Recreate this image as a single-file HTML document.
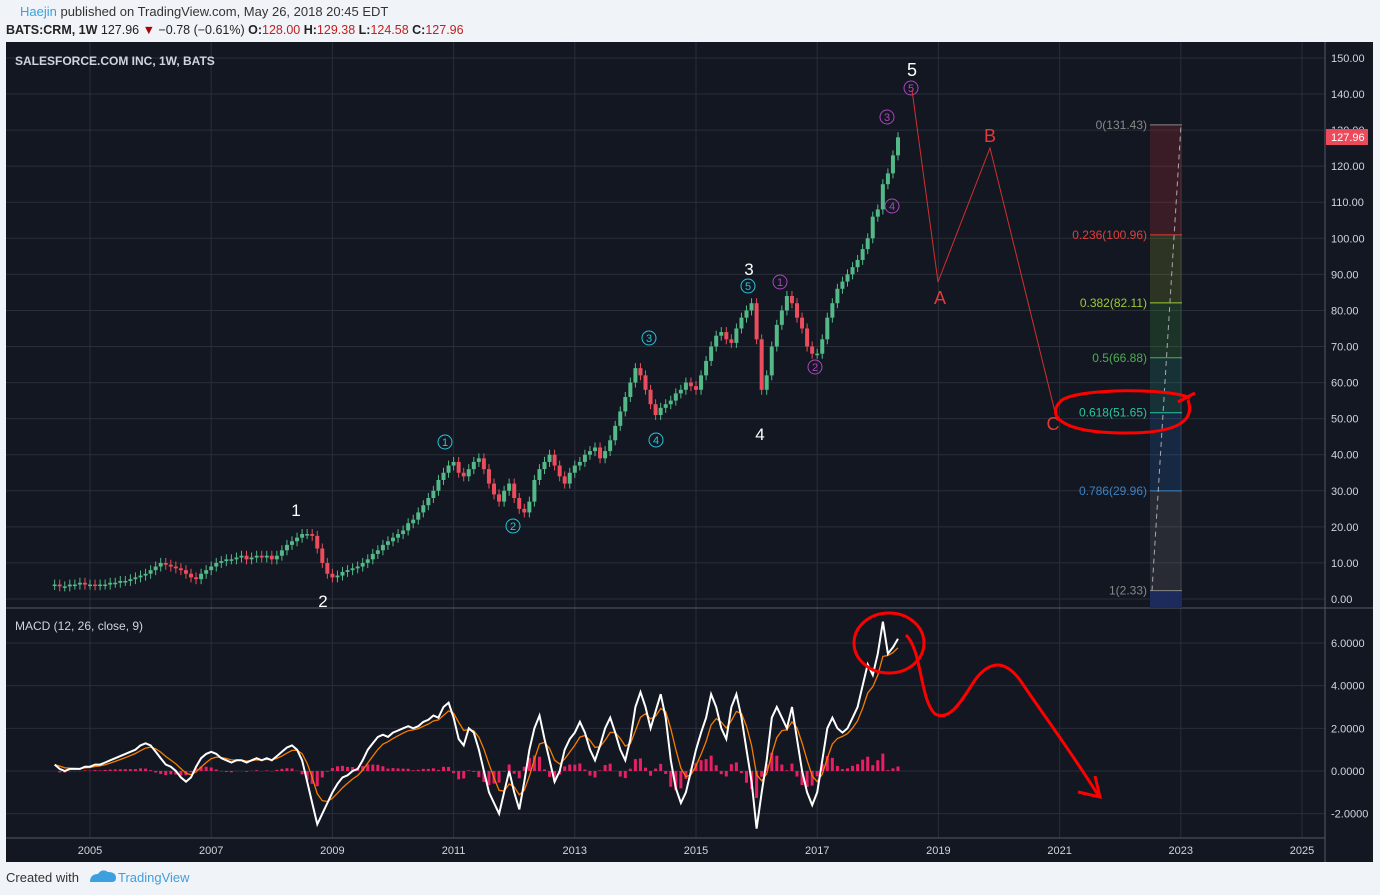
<!DOCTYPE html>
<html><head><meta charset="utf-8"><style>
body{margin:0;width:1380px;height:895px;background:#f0f3f7;font-family:"Liberation Sans",sans-serif;overflow:hidden}
svg{position:absolute;left:0;top:0}
</style></head><body>
<svg id="chart" width="1380" height="895">
<rect x="6" y="42" width="1367" height="820" fill="#131722"/>
<text x="20" y="16" font-size="13" fill="#3ca0e0">Haejin<tspan fill="#333"> published on TradingView.com, May 26, 2018 20:45 EDT</tspan></text>
<text x="6" y="34" font-size="12.5" font-weight="bold" fill="#222">BATS:CRM, 1W <tspan font-weight="normal">127.96 </tspan><tspan fill="#a00">▼</tspan><tspan font-weight="normal"> −0.78 (−0.61%) </tspan>O:<tspan fill="#c02020" font-weight="normal">128.00</tspan> H:<tspan fill="#c02020" font-weight="normal">129.38</tspan> L:<tspan fill="#c02020" font-weight="normal">124.58</tspan> C:<tspan fill="#c02020" font-weight="normal">127.96</tspan></text>
<g id="grid"></g>
<line x1="1325" y1="42" x2="1325" y2="862" stroke="#555a66"/>
<line x1="6" y1="608" x2="1373" y2="608" stroke="#555a66"/>
<line x1="6" y1="838" x2="1325" y2="838" stroke="#555a66"/>
<text x="15" y="65" font-size="12" font-weight="bold" fill="#d1d4dc">SALESFORCE.COM INC, 1W, BATS</text>
<text x="15" y="630" font-size="12" fill="#d1d4dc">MACD (12, 26, close, 9)</text>
<g id="fib"></g>
<g id="candles"></g>
<g id="macd"></g>
<g id="ann"></g>
<text x="6" y="882" font-size="13" fill="#333">Created with</text>
<path d="M90 882 q0-8 8-8 q4-6 10-2 q8 0 8 6 q0 4-4 4z" fill="#3ca0e0"/>
<text x="118" y="882" font-size="13" fill="#3ca0e0">TradingView</text>
</svg>
<script>
const NS="http://www.w3.org/2000/svg";
const startYear=2004+5/12;
const closes=[4,3.5,3.5,4,4,4.5,4,
4,3.8,4,4,4.5,4.5,5,5,5.5,6,6.5,7,
8,9,10,9.5,9,8.5,8,7,6,5.5,7,8,
9,10,10.5,11,11,11.5,12,11,11.5,12,11.5,12,
11,12,13.5,15,16,17,18,18,17.5,14,10,7,
6,6.5,7.5,8,8.5,9,10,11,12.5,13.5,15,16,
17,18,19,21,22,24,26,28,30,33,35,37,
38,35,34,36,38,39,36,32,29,27,30,32,
28,25,24,27,33,36,38,40,37,34,32,35,
37,38,40,41,42,39,41,44,48,52,56,60,
64,62,58,54,51,53,54,55,57,58,60,59,
58,62,66,70,73,74,72,71,75,78,80,82,
72,58,62,70,76,80,84,82,78,75,70,68,
68,72,78,82,86,88,90,92,94,97,100,106,
108,115,118,123,128];
const macdVals=[0.3,0.1,0,0.1,0.1,0.1,0.2,
0.2,0.3,0.3,0.4,0.5,0.6,0.7,0.8,0.9,1.0,1.2,1.3,
1.2,0.9,0.6,0.3,0.2,0,-0.3,-0.5,-0.3,0.2,0.6,0.8,
0.9,0.8,0.6,0.5,0.4,0.5,0.5,0.4,0.5,0.6,0.5,0.6,
0.5,0.7,0.9,1.1,1.2,1.0,0.5,-0.5,-1.5,-2.5,-2.0,-1.5,
-1.0,-0.6,-0.3,-0.2,0,0.1,0.5,1.0,1.3,1.6,1.7,1.6,
1.8,1.9,2.0,2.1,2.0,2.1,2.3,2.4,2.6,2.5,3.0,3.2,
2.5,1.5,1.2,2.0,1.8,1.0,0,-1.0,-1.5,-2.0,-1.0,0,
-1.0,-1.8,-0.5,1.0,2.0,2.6,1.5,0.5,-0.5,0,1.0,1.5,
1.8,2.3,1.8,1.0,0.5,1.2,2.0,2.5,1.8,1.0,0.5,1.5,
3.0,3.7,3.0,2.0,2.8,3.6,2.5,0.5,-0.8,-1.5,-1.0,0,
1.0,1.8,2.5,3.6,3.0,2.0,1.5,3.0,3.6,2.5,1.0,-0.5,
-2.7,-1.0,0.5,2.5,3.0,2.5,2.0,3.0,1.5,0,-1.0,-1.6,
-1.0,0.5,2.0,2.5,2.0,1.8,2.0,2.5,3.0,4.0,5.0,4.5,
5.5,7.0,5.5,5.8,6.2];
const priceTicks=[0,10,20,30,40,50,60,70,80,90,100,110,120,130,140,150];
const macdTicks=[-2,0,2,4,6];
const yearTicks=[2005,2007,2009,2011,2013,2015,2017,2019,2021,2023,2025];
const fibLevels=[0,0.236,0.382,0.5,0.618,0.786,1];
const fibPrices=[131.43,100.96,82.11,66.88,51.65,29.96,2.33];

const X=yr=>90+(yr-2005)*60.6;
const Y=p=>599-p*3.607;
const M=v=>771-v*21.33;
function el(tag,attrs,parent,text){const e=document.createElementNS(NS,tag);for(const k in attrs)e.setAttribute(k,attrs[k]);if(text!==undefined)e.textContent=text;parent.appendChild(e);return e;}
const grid=document.getElementById('grid');
priceTicks.forEach(p=>{
 const l=el('line',{x1:6,x2:1325,y1:Y(p),y2:Y(p),stroke:'#2a2e39'},grid);
 
 
 const t=el('text',{x:1331,y:Y(p)+4,'font-size':11,fill:'#d1d4dc'},grid,p.toFixed(2));
 
 
});
macdTicks.forEach(v=>{
 const l=el('line',{x1:6,x2:1325,y1:M(v),y2:M(v),stroke:'#2a2e39'},grid);
 
 
 const t=el('text',{x:1331,y:M(v)+4,'font-size':11,fill:'#d1d4dc'},grid,v.toFixed(4));
 
 
});
yearTicks.forEach(y=>{
 const l=el('line',{x1:X(y),x2:X(y),y1:42,y2:838,stroke:'#2a2e39'},grid);
 
 
 const t=el('text',{x:X(y),y:854,'font-size':11,fill:'#d1d4dc','text-anchor':'middle'},grid,String(y));
 
 
});
const fib=document.getElementById('fib');
const fx1=1150,fx2=1182;
const bandColors=['rgba(200,50,60,0.22)','rgba(150,170,40,0.2)','rgba(60,160,60,0.22)','rgba(40,150,130,0.22)','rgba(40,110,180,0.22)','rgba(120,120,120,0.22)'];
const lineColors=['#888','#e0403a','#9acd32','#4caf50','#26c6a0','#3b82c4','#888'];
for(let i=0;i<fibLevels.length-1;i++){
 const r=el('rect',{x:fx1,width:fx2-fx1,y:Y(fibPrices[i]),height:Y(fibPrices[i+1])-Y(fibPrices[i]),fill:bandColors[i]},fib);
 
 
}
const nb=el('rect',{x:fx1,width:fx2-fx1,y:Y(fibPrices[6]),height:608-Y(fibPrices[6]),fill:'#1c2a5c'},fib);


fibLevels.forEach((lv,i)=>{
 const l=el('line',{x1:fx1,x2:fx2,y1:Y(fibPrices[i]),y2:Y(fibPrices[i]),stroke:lineColors[i]},fib);
 
 
 const t=el('text',{x:fx1-3,y:Y(fibPrices[i])+4,'font-size':12,fill:lineColors[i],'text-anchor':'end'},fib,lv+'('+fibPrices[i].toFixed(2)+')');
 
 
});
const fd=el('line',{x1:1152,y1:Y(2.33),x2:1181,y2:Y(131.43),stroke:'#aaa','stroke-dasharray':'5,4'},fib);


const cg=document.getElementById('candles');
for(let i=0;i<closes.length;i++){
 const o=i?closes[i-1]:closes[0]*0.97, c=closes[i];
 const x=X(startYear+i/12);
 const up=c>=o, col=up?'#53b987':'#eb4d5c';
 const top=Y(Math.max(o,c)), bot=Y(Math.min(o,c));
 const w=el('line',{x1:x,x2:x,y1:top-5,y2:bot+5,stroke:col},cg);
 
 
 const b=el('rect',{x:x-2,width:4,y:top,height:Math.max(1.5,bot-top),fill:col},cg);
 
 
}
const pl=el('rect',{x:1326,y:129,width:42,height:16,fill:'#ec4a5a'},cg);


const pt=el('text',{x:1331,y:141,'font-size':11,fill:'#fff'},cg,'127.96');


const mg=document.getElementById('macd');
const sig=[];let s=macdVals[0];
macdVals.forEach(v=>{s=s+(v-s)*0.35;sig.push(s);});
macdVals.forEach((v,i)=>{
 const h=(v-sig[i])*0.5, x=X(startYear+i/12);
 const r=el('rect',{x:x-1.5,width:3,y:Math.min(M(0),M(h)),height:Math.abs(M(h)-M(0)),fill:'#e91e63'},mg);
 
 
});
const pts=a=>a.map((v,i)=>X(startYear+i/12).toFixed(1)+','+M(v).toFixed(1)).join(' ');
const sl=el('polyline',{points:pts(sig),fill:'none',stroke:'#f57c00','stroke-width':1.3},mg);


const ml=el('polyline',{points:pts(macdVals),fill:'none',stroke:'#fff','stroke-width':2},mg);


const an=document.getElementById('ann');
const labels=[['1',296,516,'#fff',17],['2',323,607,'#fff',17],['3',749,275,'#fff',17],['4',760,440,'#fff',17],['5',912,76,'#fff',18],['A',940,304,'#e53935',18],['B',990,142,'#e53935',18],['C',1053,430,'#e53935',18]];
labels.forEach(l=>{
 const t=el('text',{x:l[1],y:l[2],'font-size':l[4],fill:l[3],'text-anchor':'middle'},an,l[0]);
 
 
});
const circ=[['1',445,442,'#26c6da'],['2',513,526,'#26c6da'],['3',649,338,'#26c6da'],['4',656,440,'#26c6da'],['5',748,286,'#26c6da'],['1',780,282,'#ab47bc'],['2',815,367,'#ab47bc'],['3',887,117,'#ab47bc'],['4',892,206,'#ab47bc'],['5',911,88,'#ab47bc']];
circ.forEach(c=>{
 const g=el('circle',{cx:c[1],cy:c[2],r:7,fill:'none',stroke:c[3]},an);
 
 
 const t=el('text',{x:c[1],y:c[2]+4,'font-size':11,fill:c[3],'text-anchor':'middle'},an,c[0]);
 
 
});
const abc=el('polyline',{points:'912,90 938,282 990,148 1055,412',fill:'none',stroke:'#d32f2f','stroke-width':1},an);


const ell=el('path',{d:'M1190 398 C1170 388 1080 388 1062 400 C1045 415 1060 432 1120 433 C1180 434 1195 420 1188 400 M1178 402 L1195 393',fill:'none',stroke:'#ff0000','stroke-width':3},an);


const mc=el('ellipse',{cx:889,cy:643,rx:35,ry:30,fill:'none',stroke:'#ff0000','stroke-width':3},an);


const cur=el('path',{d:'M906 635 C922 650 920 700 935 714 C950 722 962 700 975 680 C990 660 1005 660 1020 680 C1040 710 1070 750 1098 795 M1078 792 L1100 797 L1095 776',fill:'none',stroke:'#ff0000','stroke-width':3},an);


</script>
</body></html>
